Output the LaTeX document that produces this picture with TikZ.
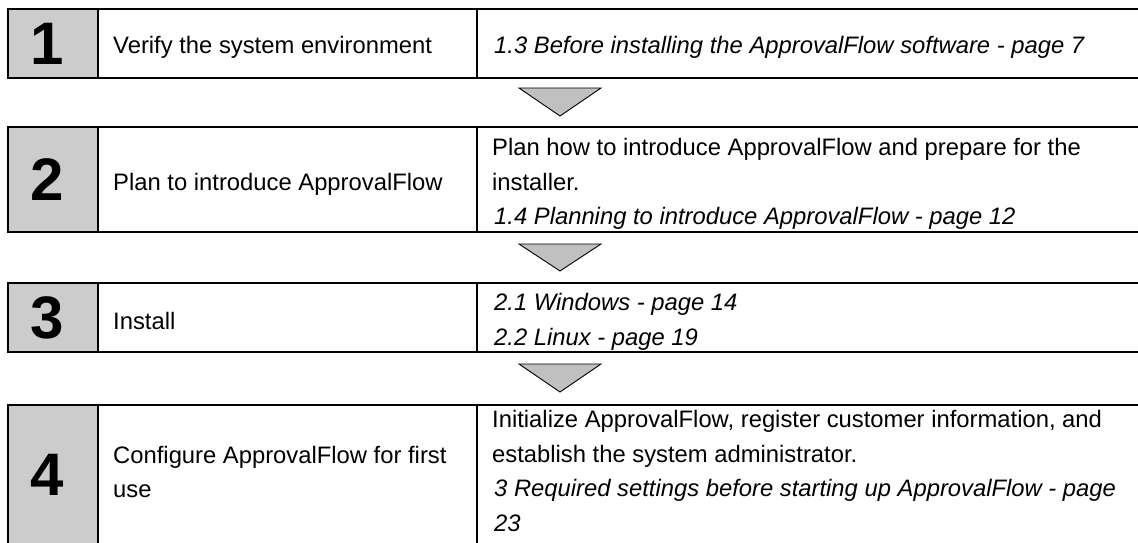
\documentclass[tikz,border=0pt]{standalone}
\usepackage{fontspec}
\setmainfont{Liberation Sans}
\begin{document}
\begin{tikzpicture}[x=1pt,y=-1pt,
  numcell/.style={fill=numgray},
  rule/.style={line width=1.8pt},
  sep/.style={line width=1.4pt},
  numtxt/.style={font=\fontsize{60}{60}\selectfont\bfseries, inner sep=0pt},
  tasktxt/.style={font=\fontsize{23.8}{28}\selectfont, anchor=base west, inner sep=0pt},
  reftxt/.style={font=\fontsize{23.8}{28}\selectfont, anchor=base west, inner sep=0pt},
  refit/.style={font=\fontsize{23.8}{28}\selectfont\itshape, anchor=base west, inner sep=0pt},
  flowtri/.style={fill=trigray, draw=black, line width=0.9pt, line join=miter}
]
\definecolor{numgray}{RGB}{204,204,204}
\definecolor{trigray}{RGB}{192,192,192}
\useasboundingbox[fill=white] (0,0) rectangle (1138,542);

% ---- row cells (number column fills)
\fill[numcell] (8,9) rectangle (98,78);
\fill[numcell] (8,127) rectangle (98,232);
\fill[numcell] (8,283) rectangle (98,352);
\fill[numcell] (8,405) rectangle (98,545);

% ---- row borders
\foreach \t/\b in {9/78,127/232,283/352}{
  \draw[rule] (1140,\t) -- (8,\t) -- (8,\b) -- (1140,\b);
  \draw[sep] (98,\t) -- (98,\b);
  \draw[sep] (477,\t) -- (477,\b);
}
\draw[rule] (1140,405) -- (8,405) -- (8,546);
\draw[sep] (98,405) -- (98,546);
\draw[sep] (477,405) -- (477,546);

% ---- numbers
\node[numtxt] (n1) at (47,43.5) {1};
\node[numtxt] (n2) at (47,179.5) {2};
\node[numtxt] (n3) at (47,317.5) {3};
\node[numtxt] (n4) at (47,474.5) {4};

% ---- tasks
\node[tasktxt] (t1) at (113,53) {Verify the system environment};
\node[tasktxt] (t2) at (113,190) {Plan to introduce ApprovalFlow};
\node[tasktxt] (t3) at (113,329) {Install};
\node[tasktxt] (t4a) at (113,463) {Configure ApprovalFlow for first};
\node[tasktxt] (t4b) at (113,497) {use};

% ---- references
\node[refit] (r1) at (494,53) {1.3 Before installing the ApprovalFlow software - page 7};
\node[reftxt] (r2a) at (492,155) {Plan how to introduce ApprovalFlow and prepare for the};
\node[reftxt] (r2b) at (492,190) {installer.};
\node[refit] (r2c) at (494,224.5) {1.4 Planning to introduce ApprovalFlow - page 12};
\node[refit] (r3a) at (494,310) {2.1 Windows - page 14};
\node[refit] (r3b) at (494,345) {2.2 Linux - page 19};
\node[reftxt] (r4a) at (492,427) {Initialize ApprovalFlow, register customer information, and};
\node[reftxt] (r4b) at (492,462) {establish the system administrator.};
\node[refit] (r4c) at (494,496.5) {3 Required settings before starting up ApprovalFlow - page};
\node[refit] (r4d) at (494,531) {23};

% ---- flow arrows (triangles)
\coordinate (a1) at (560,88);
\coordinate (a2) at (560,244);
\coordinate (a3) at (560,364);
\draw[flowtri] (a1) ++(-41,0) -- ++(82,0) -- ++(-41,28) -- cycle;
\draw[flowtri] (a2) ++(-41,0) -- ++(82,0) -- ++(-41,27) -- cycle;
\draw[flowtri] (a3) ++(-41,0) -- ++(82,0) -- ++(-41,28) -- cycle;
\end{tikzpicture}
\end{document}
